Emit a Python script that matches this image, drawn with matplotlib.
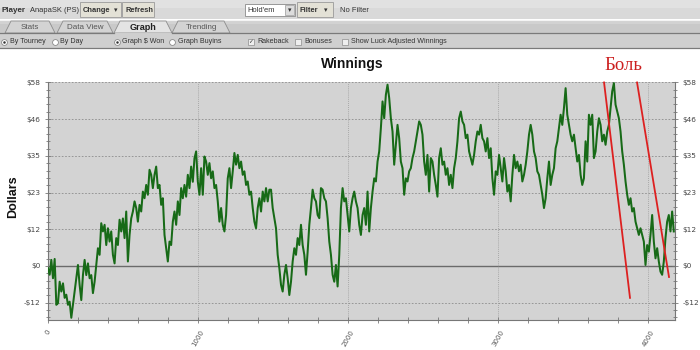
import numpy as np
import matplotlib
matplotlib.use('Agg')
import matplotlib.pyplot as plt
from matplotlib.patches import Rectangle, Polygon
from matplotlib.lines import Line2D
from matplotlib.ticker import MultipleLocator

# ---------------- data ----------------
winnings = [
    # tourneys 0 - 1000
    -0.7, -2.8, 1.9, -3.9, 2.2, -12.3, -11.8, -5.0, -8.1, -5.5, -10.1, -9.1, -12.3, -11.3, -16.4,
    -12.3, -8.1, -3.9, 0.3, -6.0, -10.8, -2.9, 1.9, -2.9, 0.8, -3.9, -2.9, -8.6, -5.0, 0.3,
    5.6, 3.5, 13.5, 10.9, 13.0, 6.6, 11.9, 7.7, 10.9, 3.5, 0.8, 8.8, 6.6, 14.6, 10.9,
    15.0, 8.8, 17.2, 1.4, 9.8, 15.0, 17.2, 20.4, 18.3, 14.0, 19.3, 17.2, 23.5, 21.4, 25.6,
    22.5, 30.4, 28.8, 24.6, 28.8, 31.4, 24.6, 25.6, 19.3, 21.4, 9.8, 5.6, 1.4, 7.7, 6.6,
    14.0, 17.2, 13.0, 20.4, 16.1, 24.6, 21.4, 25.6, 21.9, 28.8, 24.6, 31.4, 26.6, 34.0,
    # tourneys 1000 - 2000
    36.2, 26.7, 22.5, 30.9, 22.5, 34.6, 33.0, 28.8, 32.5, 27.7, 29.9, 24.6, 25.6, 20.4, 14.0,
    18.3, 13.0, 10.9, 16.1, 27.7, 30.9, 24.6, 29.9, 35.7, 32.0, 35.1, 30.9, 33.0, 28.8, 29.9,
    25.6, 26.7, 22.5, 23.5, 18.3, 14.0, 11.9, 18.3, 21.4, 17.2, 23.5, 20.4, 24.6, 20.4, 24.1,
    24.1, 18.3, 15.1, 11.9, 3.5, -0.7, -6.0, -8.1, -2.8, 0.3, -3.9, -9.2, -5.0, 1.4, 5.6,
    3.5, 8.8, 6.6, 13.0, 6.6, 3.5, -2.8, 4.5, 13.0, 18.3, 24.1, 21.4, 20.4, 16.1, 15.1,
    24.6, 24.1, 21.4, 20.4, 15.1, 7.7, 3.5, -2.8, -5.0, 0.3, -6.5, 3.5, 18.3, 24.6, 20.4,
    21.4, 16.1,
    # tourneys 2000 - 3000
    10.9, 18.3, 21.4, 23.5, 20.4, 18.3, 13.0, 9.8, 16.1, 18.3, 13.0, 23.5, 10.9, 18.3, 23.5,
    27.7, 26.7, 33.0, 36.2, 43.6, 52.0, 46.7, 54.1, 57.3, 53.1, 46.7, 42.5, 32.0, 38.3, 44.6,
    40.4, 33.0, 30.9, 22.5, 27.7, 26.7, 29.9, 30.9, 34.1, 36.2, 39.4, 42.5, 45.7, 44.6, 41.5,
    33.0, 28.8, 35.1, 23.5, 34.1, 33.0, 28.8, 25.6, 21.9, 34.1, 37.2, 32.0, 33.0, 28.8, 30.9,
    25.6, 28.8, 24.6, 30.9, 34.1, 39.4, 46.7, 48.8, 45.7, 44.6, 40.4, 41.5, 36.2, 34.1, 32.0,
    35.1, 39.4, 42.5, 41.5, 44.6, 40.4, 39.4, 36.2, 40.4, 34.1, 37.2, 27.7, 22.5, 29.9, 28.8,
    # tourneys 3000 - end
    35.1, 30.9, 26.7, 34.1, 29.9, 23.5, 25.6, 20.4, 28.8, 35.1, 30.9, 33.0, 29.9, 32.0, 26.7,
    28.8, 32.0, 36.2, 41.5, 44.6, 41.5, 36.2, 34.1, 29.9, 28.8, 25.6, 22.5, 18.3, 21.4, 27.7,
    33.0, 25.6, 28.8, 30.9, 37.2, 39.4, 43.6, 47.8, 44.6, 49.9, 56.2, 47.8, 44.6, 41.5, 39.4,
    41.5, 37.2, 33.0, 35.1, 28.8, 25.6, 27.7, 39.4, 33.0, 47.8, 44.6, 47.8, 34.1, 36.2, 42.5,
    46.7, 44.6, 39.4, 41.5, 38.3, 42.5, 44.6, 49.9, 55.2, 57.8, 51.0, 48.8, 46.7, 42.5, 36.2,
    32.0, 26.7, 22.5, 19.3, 21.4, 17.2, 18.3, 14.0, 11.9, 9.8, 11.9, 9.8, 7.7, 0.3, 6.6,
    4.5, 9.8, 16.1, 7.7, 2.4, 5.6, 1.4, -1.8, -2.8, 1.4, 8.8, 14.0, 16.1, 10.9, 17.2, 10.9,
]
tourney = np.linspace(0, 4172, len(winnings))

y_ticks = [-11.6, 0.0, 11.6, 23.2, 34.8, 46.4, 58.0]
y_tick_labels = ['-$12', '$0', '$12', '$23', '$35', '$46', '$58']
x_ticks = [0, 1000, 2000, 3000, 4000]
x_tick_labels = ['0', '1000', '2000', '3000', '4000']

# hand-drawn red annotation ("Боль")
pain_line1_x = [3707, 3880]
pain_line1_y = [58.0, -10.1]
pain_line2_x = [3927, 4140]
pain_line2_y = [58.0, -3.5]
pain_label = 'Боль'

# ---------------- figure ----------------
W, H = 700, 350
fig = plt.figure(figsize=(7, 3.5), dpi=100)
fig.patch.set_facecolor('white')

UI_FONT = 'Liberation Sans'

def fx(px):
    return px / W

def fy(py):
    return 1 - py / H

def rect(x0, y0, x1, y1, fc, ec='none', lw=0.6, z=1):
    fig.add_artist(Rectangle((fx(x0), fy(y1)), fx(x1) - fx(x0), fy(y0) - fy(y1),
                             transform=fig.transFigure, facecolor=fc, edgecolor=ec,
                             lw=lw, zorder=z))

def hline(x0, x1, py, color, lw=0.8, z=2):
    fig.add_artist(Line2D([fx(x0), fx(x1)], [fy(py), fy(py)], transform=fig.transFigure,
                          color=color, lw=lw, zorder=z))

def txt(px, py, s, **kw):
    kw.setdefault('fontsize', 5.4)
    kw.setdefault('color', '#333333')
    kw.setdefault('va', 'center')
    kw.setdefault('family', UI_FONT)
    kw.setdefault('zorder', 5)
    fig.text(fx(px), fy(py), s, **kw)

def marker(px, py, m, ms, fc, ec, z=4, mew=0.6):
    fig.add_artist(Line2D([fx(px)], [fy(py)], transform=fig.transFigure, marker=m,
                          markersize=ms, markerfacecolor=fc, markeredgecolor=ec,
                          mew=mew, ls='none', zorder=z))

# --- row 1: player bar ---
rect(0, 0, 700, 19, '#d9d9d9')
rect(0, 0, 700, 8, '#e1e1e1')
txt(2, 10, 'Player', weight='bold', fontsize=5.8)
txt(30, 10, 'AnapaSK (PS)')
rect(80, 2, 121, 17, '#e3e1d6', ec='#9a9a9a', lw=0.6, z=2)
txt(83, 10, 'Change', weight='bold')
txt(114, 10, '▾', fontsize=5, family='DejaVu Sans')
rect(122, 2, 154, 17, '#e3e1d6', ec='#9a9a9a', lw=0.6, z=2)
txt(125, 10, 'Refresh', weight='bold')
rect(245, 4, 295, 16, 'white', ec='#8a8a8a', lw=0.6, z=2)
rect(285, 5, 294, 15, '#dcdcdc', ec='#9a9a9a', lw=0.5, z=3)
txt(289.5, 10, '▾', fontsize=5, ha='center', family='DejaVu Sans')
txt(247, 10, "Hold'em")
rect(297, 2, 333, 17, '#e3e1d6', ec='#9a9a9a', lw=0.6, z=2)
txt(300, 10, 'Filter', weight='bold')
txt(324, 10, '▾', fontsize=5, family='DejaVu Sans')
txt(340, 10, 'No Filter')
hline(0, 700, 19.5, '#f4f4f4', lw=0.8)

# --- row 2: tabs ---
rect(0, 20, 700, 33, '#c9c9c9')
rect(0, 20, 700, 24, '#d2d2d2')
tabs = [('Stats', 5, 55, False), ('Data View', 57, 113, False),
        ('Graph', 114, 172, True), ('Trending', 172, 230, False)]
for label, x0, x1, active in tabs:
    poly = [(fx(x0), fy(33)), (fx(x0 + 6), fy(21)), (fx(x1 - 6), fy(21)), (fx(x1), fy(33))]
    fig.add_artist(Polygon(poly, closed=True, transform=fig.transFigure,
                           facecolor='#e4e4e4' if active else '#d3d3d3',
                           edgecolor='#8c8c8c', lw=0.6, zorder=2 if not active else 3))
    txt((x0 + x1) / 2, 27.5, label, ha='center',
        weight='bold' if active else 'normal',
        fontsize=6.6 if active else 5.8,
        color='#222222' if active else '#555555')
hline(0, 114, 33, '#7a7a7a', lw=0.9)
hline(172, 700, 33, '#7a7a7a', lw=0.9)

# --- row 3: options ---
rect(0, 34, 700, 48, '#cfcfcf')
hline(0, 700, 48.3, '#7a7a7a', lw=0.9)
radios = [(4, 'By Tourney', True), (55, 'By Day', False),
          (117, 'Graph $ Won', True), (172, 'Graph Buyins', False)]
for px, label, on in radios:
    marker(px, 41.5, 'o', 4.2, 'white', '#8a8a8a')
    if on:
        marker(px, 41.5, 'o', 1.8, '#333333', '#333333', z=5, mew=0)
    txt(px + 5.5, 41.5, label, fontsize=5.1)
checks = [(251, 'Rakeback', True), (298, 'Bonuses', False),
          (345, 'Show Luck Adjusted Winnings', False)]
for px, label, on in checks:
    marker(px, 41.5, 's', 4.0, '#eeeeee', '#9a9a9a')
    if on:
        txt(px, 41.8, '✓', fontsize=4.2, ha='center', color='#333333', zorder=6,
            family='DejaVu Sans')
    txt(px + 6, 41.5, label, fontsize=5.1)

# ---------------- chart ----------------
ax = fig.add_axes([fx(48), fy(320), fx(675) - fx(48), fy(82) - fy(320)])
ax.set_facecolor('#d3d3d3')
ax.set_xlim(0, 4180)
ax.set_ylim(-17.1, 58.15)

for y in y_ticks:
    if y == 0:
        ax.axhline(y, color='#6a6a6a', lw=1.0, zorder=1)
    else:
        ax.axhline(y, color='#8c8c8c', lw=0.6, ls=(0, (2, 2)), zorder=1)
for x in x_ticks[1:]:
    ax.axvline(x, color='#9a9a9a', lw=0.6, ls=(0, (1, 1.5)), zorder=1)

ax.plot(tourney, winnings, color='#176a17', lw=1.45, zorder=3)

ax.plot(pain_line1_x, pain_line1_y, color='#dd2020', lw=1.3, zorder=4, clip_on=False)
ax.plot(pain_line2_x, pain_line2_y, color='#dd2020', lw=1.3, zorder=4, clip_on=False)

ax.set_yticks(y_ticks)
ax.set_yticklabels(y_tick_labels)
ax.yaxis.set_minor_locator(MultipleLocator(2.32))
ax.set_xticks(x_ticks)
ax.set_xticklabels(x_tick_labels)
ax.xaxis.set_minor_locator(MultipleLocator(200))

ax.tick_params(axis='y', which='both', left=True, right=True, labelleft=True,
               labelright=True, direction='inout', color='#777777', width=0.6,
               labelsize=5.3, labelcolor='#444444')
ax.tick_params(axis='y', which='major', length=5, pad=3)
ax.tick_params(axis='y', which='minor', length=3)
ax.tick_params(axis='x', which='both', direction='inout', color='#777777', width=0.6,
               labelsize=5.0, labelcolor='#555555')
ax.tick_params(axis='x', which='major', length=5, pad=4)
ax.tick_params(axis='x', which='minor', length=4)
for lab in ax.get_xticklabels():
    lab.set_rotation(60)
    lab.set_ha('center')
    lab.set_va('top')

for side in ['left', 'bottom', 'right']:
    ax.spines[side].set_color('#777777')
    ax.spines[side].set_linewidth(0.8)
ax.spines['top'].set_visible(False)

txt(352, 64, 'Winnings', ha='center', weight='bold', fontsize=10,
    family='Liberation Sans', color='#111111')
txt(13, 197, 'Dollars', ha='center', weight='bold', fontsize=9,
    family='Liberation Sans', color='#111111', rotation=90)
txt(623, 66, pain_label, ha='center', fontsize=13.5, family='Liberation Serif',
    color='#cc2020')

fig.savefig('out.png', dpi=100, facecolor='white')
